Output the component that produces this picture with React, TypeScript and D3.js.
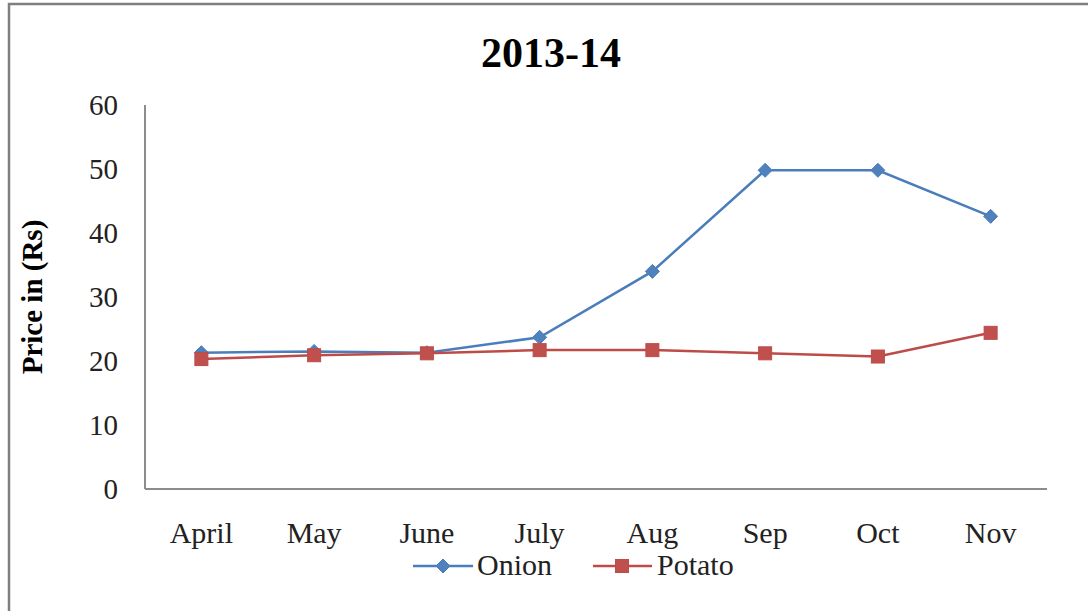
import React from "react";
import * as d3 from "d3";

const categories = ["April", "May", "June", "July", "Aug", "Sep", "Oct", "Nov"];
const onion = [21.3, 21.5, 21.3, 23.7, 34.0, 49.8, 49.8, 42.6];
const potato = [20.3, 20.9, 21.2, 21.7, 21.7, 21.2, 20.7, 24.4];
const yTicks = [0, 10, 20, 30, 40, 50, 60];
const title = "2013-14";
const yLabel = "Price in (Rs)";
const seriesNames = ["Onion", "Potato"];

const W = 1088;
const H = 611;
const left = 145;
const right = 1047;
const top = 105;
const bottom = 489;

export default function App() {
  const x = d3.scalePoint<string>().domain(categories).range([left, right]).padding(0.5);
  const y = d3.scaleLinear().domain([0, 60]).range([bottom, top]);
  const line = d3
    .line<number>()
    .x((_, i) => x(categories[i]) as number)
    .y((d) => y(d));

  const blue = "#4A7EBB";
  const blueM = "#4F81BD";
  const red = "#BE4B48";
  const redM = "#C0504D";
  const font = "'Liberation Serif', 'Times New Roman', serif";

  const diamond = (cx: number, cy: number, r: number) =>
    `M${cx},${cy - r}L${cx + r},${cy}L${cx},${cy + r}L${cx - r},${cy}Z`;

  return (
    <svg
      width={W}
      height={H}
      style={{ position: "absolute", left: 0, top: 0, background: "#fff" }}
      fontFamily={font}
    >
      <rect x={9} y={4} width={W + 10} height={H + 10} fill="#fff" stroke="#7f7f7f" strokeWidth={2.5} />
      <text x={551} y={67} textAnchor="middle" fontSize={42} fontWeight="bold" fill="#000">
        {title}
      </text>
      <text
        transform={`translate(42,297) rotate(-90)`}
        textAnchor="middle"
        fontSize={29}
        fontWeight="bold"
        fill="#000"
      >
        {yLabel}
      </text>
      {yTicks.map((t) => (
        <text key={t} x={118} y={y(t)} dy="0.35em" textAnchor="end" fontSize={29} fill="#222">
          {t}
        </text>
      ))}
      <line x1={left} x2={left} y1={top} y2={bottom} stroke="#8c8c8c" strokeWidth={2} />
      <line x1={left} x2={right} y1={bottom} y2={bottom} stroke="#8c8c8c" strokeWidth={2} />
      {categories.map((c) => (
        <text key={c} x={x(c)} y={543} textAnchor="middle" fontSize={30} fill="#222">
          {c}
        </text>
      ))}
      <path d={line(onion) || ""} fill="none" stroke={blue} strokeWidth={2.5} />
      <path d={line(potato) || ""} fill="none" stroke={red} strokeWidth={2.5} />
      {onion.map((v, i) => (
        <path key={"o" + i} d={diamond(x(categories[i]) as number, y(v), 7)} fill={blueM} stroke={blue} strokeWidth={1} />
      ))}
      {potato.map((v, i) => (
        <rect
          key={"p" + i}
          x={(x(categories[i]) as number) - 6.5}
          y={y(v) - 6.5}
          width={13}
          height={13}
          fill={redM}
          stroke={red}
          strokeWidth={1}
        />
      ))}
      {/* legend */}
      <line x1={413} x2={473} y1={566} y2={566} stroke={blue} strokeWidth={2.5} />
      <path d={diamond(443, 566, 7)} fill={blueM} stroke={blue} strokeWidth={1} />
      <text x={477} y={575} fontSize={30} fill="#222">
        {seriesNames[0]}
      </text>
      <line x1={593} x2={652} y1={566} y2={566} stroke={red} strokeWidth={2.5} />
      <rect x={615.5} y={559.5} width={13} height={13} fill={redM} stroke={red} strokeWidth={1} />
      <text x={657} y={575} fontSize={30} fill="#222">
        {seriesNames[1]}
      </text>
    </svg>
  );
}
